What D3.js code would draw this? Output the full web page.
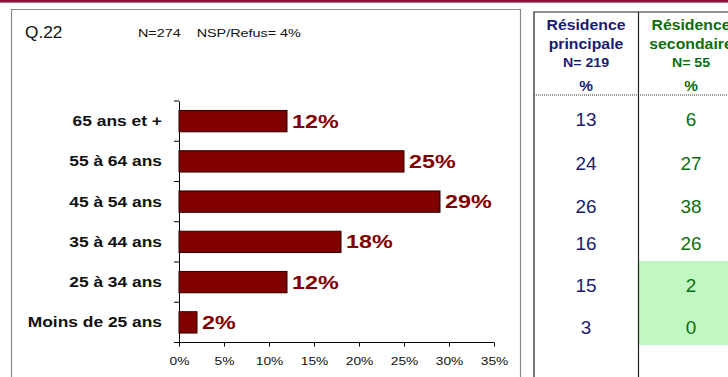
<!DOCTYPE html>
<html>
<head>
<meta charset="utf-8">
<script src="https://cdn.jsdelivr.net/npm/d3@7"></script>
<style>
  html, body { margin: 0; padding: 0; background: #fff; }
  svg { display: block; font-family: Arial, "Liberation Sans", sans-serif; }
</style>
</head>
<body>
<svg id="chart" width="728" height="377"></svg>
<script>
// Age groups, top to bottom
const categories = ["65 ans et +", "55 à 64 ans", "45 à 54 ans", "35 à 44 ans", "25 à 34 ans", "Moins de 25 ans"];
// Overall share (%) for each age group
const totalValues = [12, 25, 29, 18, 12, 2];
// Breakdown by type of residence (%)
const principaleValues = [13, 24, 26, 16, 15, 3];
const secondaireValues = [6, 27, 38, 26, 2, 0];
// Rows of the second column that are highlighted
const secondaireHighlight = [false, false, false, false, true, true];
// X axis ticks
const xTicks = [0, 5, 10, 15, 20, 25, 30, 35];

const svg = d3.select("#chart");

// widen text horizontally around its anchor point
function stretch(sel, sx) {
  sel.each(function () {
    const t = d3.select(this);
    const px = +t.attr("x") || 0, py = +t.attr("y") || 0;
    t.attr("x", 0).attr("y", 0).attr("transform", `translate(${px},${py}) scale(${sx},1)`);
  });
  return sel;
}

// top rule
svg.append("rect").attr("x", 0).attr("y", 0).attr("width", 728).attr("height", 2.6).attr("fill", "#8c1237");

// chart frame
svg.append("path")
  .attr("d", "M11.5,400 V9.5 H520.5 V400")
  .attr("fill", "none").attr("stroke", "#8a8a8a").attr("stroke-width", 1.2);

stretch(svg.append("text").attr("x", 25).attr("y", 38).attr("font-size", 16).attr("fill", "#111").text("Q.22"), 1.08);
stretch(svg.append("text").attr("x", 138).attr("y", 37).attr("font-size", 11.5).attr("fill", "#111")
  .attr("xml:space", "preserve").text("N=274    NSP/Refus= 4%"), 1.25);

// bar chart
const x = d3.scaleLinear().domain([0, 35]).range([179, 494]);
const y = d3.scaleBand().domain(categories).range([101, 342.5]).paddingInner(0.47).paddingOuter(0.235);

const yAxis = svg.append("g").attr("transform", "translate(179,0)")
  .call(d3.axisLeft(y).tickSize(0).tickFormat(""));
yAxis.select(".domain").attr("stroke", "#000");
// category separators on the y axis
const sepY = d3.range(categories.length + 1).map(i => 101 + i * (342.5 - 101) / categories.length);
svg.append("g").selectAll("line").data(sepY).join("line")
  .attr("x1", 174).attr("x2", 179).attr("y1", d => d).attr("y2", d => d)
  .attr("stroke", "#000").attr("stroke-width", 1);

const xAxis = svg.append("g").attr("transform", "translate(0,342.5)")
  .call(d3.axisBottom(x).tickValues(xTicks).tickSize(4).tickPadding(5).tickFormat(d => d + "%"));
xAxis.select(".domain").attr("stroke", "#000").attr("d", "M179,0H494");
xAxis.selectAll(".tick line").attr("stroke", "#000");
xAxis.selectAll(".tick text").attr("font-size", 11).attr("fill", "#111")
  .attr("font-family", "Arial, 'Liberation Sans', sans-serif")
  .attr("y", 22).attr("dy", null);
stretch(xAxis.selectAll(".tick text"), 1.25);

stretch(svg.append("g").selectAll("text").data(categories).join("text")
  .attr("x", 162).attr("y", d => y(d) + y.bandwidth() / 2 + 5)
  .attr("text-anchor", "end").attr("font-size", 14.5).attr("font-weight", "bold").attr("fill", "#111")
  .text(d => d), 1.2);

svg.append("g").selectAll("rect").data(totalValues).join("rect")
  .attr("x", x(0)).attr("y", (d, i) => y(categories[i]))
  .attr("width", d => x(d) - x(0)).attr("height", y.bandwidth())
  .attr("fill", "#800000").attr("stroke", "#2a0000").attr("stroke-width", 1);

stretch(svg.append("g").selectAll("text").data(totalValues).join("text")
  .attr("x", d => x(d) + 5).attr("y", (d, i) => y(categories[i]) + y.bandwidth() / 2 + 6.5)
  .attr("font-size", 18.5).attr("font-weight", "bold").attr("fill", "#800000")
  .text(d => d + "%"), 1.26);

// residence table
const navy = "#1a1a72", green = "#0d6e0d";
const col1 = 586, col2 = 691;
const rowY = [119, 163, 206.5, 243, 285, 327];
const rowBounds = [261, 345];

svg.append("g").selectAll("rect").data(secondaireValues.map((v, i) => ({ v, i })).filter(d => secondaireHighlight[d.i]))
  .join("rect")
  .attr("x", 638.5).attr("width", 90)
  .attr("y", d => d.i === 4 ? rowBounds[0] : (rowY[4] + rowY[5]) / 2)
  .attr("height", d => d.i === 4 ? (rowY[4] + rowY[5]) / 2 - rowBounds[0] : rowBounds[1] - (rowY[4] + rowY[5]) / 2)
  .attr("fill", "#c1f7c3");

svg.append("path").attr("d", "M534,400 V12 H728 M638.5,12 V400")
  .attr("fill", "none").attr("stroke", "#222").attr("stroke-width", 1.2);
svg.append("line").attr("x1", 534).attr("x2", 728).attr("y1", 95).attr("y2", 95)
  .attr("stroke", "#333").attr("stroke-dasharray", "1,1").attr("stroke-width", 1);

function header(cx, color, l1, l2, n) {
  const g = svg.append("g").attr("fill", color).attr("font-weight", "bold").attr("text-anchor", "middle");
  stretch(g.append("text").attr("x", cx).attr("y", 30).attr("font-size", 14).text(l1), 1.13);
  stretch(g.append("text").attr("x", cx).attr("y", 49).attr("font-size", 14).text(l2), 1.13);
  stretch(g.append("text").attr("x", cx).attr("y", 67).attr("font-size", 12).text(n), 1.18);
  stretch(g.append("text").attr("x", cx).attr("y", 91).attr("font-size", 14).text("%"), 1.1);
}
header(col1, navy, "Résidence", "principale", "N= 219");
header(col2, green, "Résidence", "secondaire", "N= 55");

stretch(svg.append("g").selectAll("text").data(principaleValues).join("text")
  .attr("x", col1).attr("y", (d, i) => rowY[i] + 6.5).attr("text-anchor", "middle")
  .attr("font-size", 18).attr("fill", navy).text(d => d), 1.05);
stretch(svg.append("g").selectAll("text").data(secondaireValues).join("text")
  .attr("x", col2).attr("y", (d, i) => rowY[i] + 6.5).attr("text-anchor", "middle")
  .attr("font-size", 18).attr("fill", green).text(d => d), 1.05);
</script>
</body>
</html>
